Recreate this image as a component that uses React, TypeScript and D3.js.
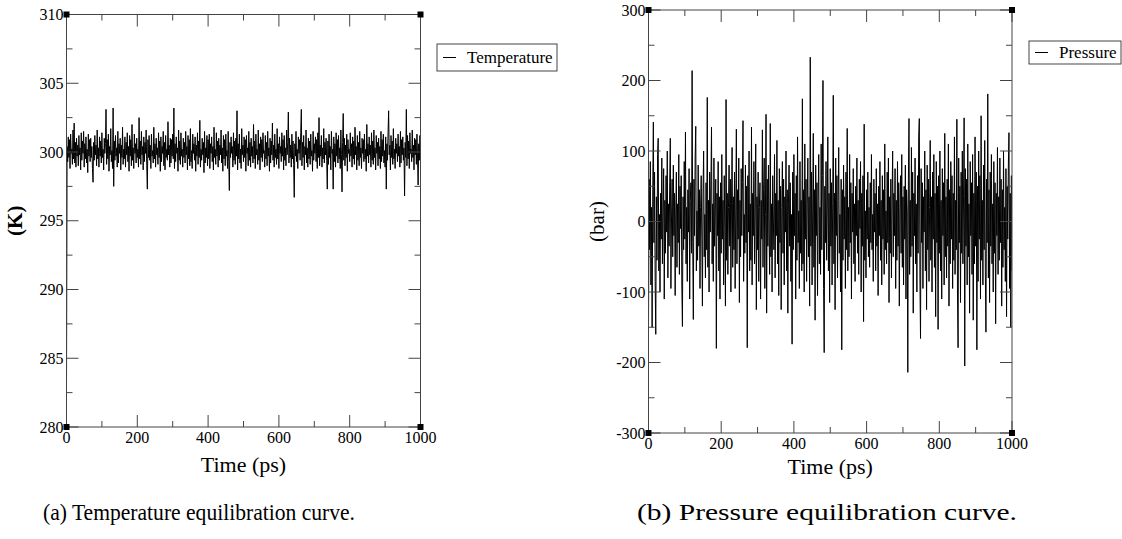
import React from "react";
import * as d3 from "d3";

// Temperature (K), sampled evenly over 0..1000 ps
const temperature: number[] = [
  283.0, 300.4, 299.3, 301.1, 299.6, 300.9, 298.8, 301.3, 299.9, 300.2, 299.1, 301.6, 299.5, 302.1, 299.2, 300.7, 298.9, 301.0, 299.7, 300.5,
  299.0, 301.2, 299.8, 300.3, 298.7, 301.4, 299.4, 300.8, 299.9, 301.5, 298.9, 300.6, 299.5, 301.1, 299.2, 300.2, 298.5, 301.3, 299.7, 300.9,
  299.3, 301.0, 299.6, 300.4, 298.8, 297.8, 300.7, 299.4, 301.2, 299.8, 300.5, 299.0, 301.6, 299.5, 300.3, 298.9, 301.1, 299.7, 300.8, 299.2,
  301.4, 299.6, 300.2, 298.7, 301.0, 299.9, 300.6, 303.1, 299.1, 300.9, 299.5, 301.3, 298.6, 300.4, 299.8, 301.7, 299.3, 300.1, 298.8, 303.2,
  297.5, 300.8, 299.4, 301.2, 299.7, 300.3, 298.9, 301.5, 299.2, 300.6, 299.9, 301.0, 298.7, 300.5, 299.6, 301.8, 299.1, 300.2, 299.5, 301.1,
  298.9, 300.7, 299.8, 301.4, 299.3, 300.4, 298.6, 301.2, 299.7, 300.9, 299.0, 302.0, 299.4, 300.3, 298.8, 301.3, 299.9, 300.6, 299.2, 301.0,
  299.6, 300.2, 298.9, 302.5, 299.5, 300.8, 299.1, 301.5, 299.8, 300.4, 298.7, 301.1, 299.3, 300.7, 299.9, 301.6, 299.0, 297.3, 300.9, 299.6,
  301.2, 299.4, 300.5, 298.8, 301.3, 299.7, 300.1, 299.2, 301.8, 299.5, 300.6, 298.9, 301.0, 299.8, 300.3, 299.1, 301.4, 299.6, 300.8, 298.6,
  301.1, 299.3, 300.4, 299.9, 301.5, 299.0, 300.7, 298.7, 301.2, 299.6, 300.2, 299.4, 302.2, 299.8, 300.5, 298.9, 301.0, 299.2, 300.9, 299.7,
  301.3, 299.5, 303.2, 298.8, 300.6, 299.3, 301.1, 299.9, 300.3, 298.6, 301.6, 299.4, 300.8, 299.1, 301.4, 299.7, 300.2, 298.9, 301.0, 299.6,
  300.7, 299.2, 301.5, 299.8, 300.4, 298.7, 301.2, 299.5, 300.9, 299.0, 301.7, 299.3, 300.1, 298.8, 301.3, 299.9, 300.6, 299.4, 301.1, 298.6,
  300.5, 299.7, 301.4, 299.1, 300.8, 299.6, 302.3, 298.9, 300.2, 299.4, 301.0, 299.8, 300.7, 298.5, 301.5, 299.2, 300.3, 299.6, 301.2, 299.0,
  300.9, 299.5, 301.3, 298.8, 300.6, 299.9, 301.1, 299.3, 300.4, 298.7, 301.8, 299.6, 300.2, 299.1, 301.4, 299.7, 300.8, 298.9, 301.0, 299.4,
  300.5, 299.8, 301.6, 299.2, 300.3, 298.6, 301.2, 299.5, 300.9, 299.0, 301.3, 299.7, 300.1, 298.8, 301.5, 299.3, 297.2, 300.7, 299.6, 301.1,
  299.9, 300.4, 298.9, 301.4, 299.4, 300.8, 299.1, 301.0, 299.7, 303.0, 298.7, 300.6, 299.5, 301.3, 299.2, 300.2, 298.8, 301.7, 299.8, 300.5,
  299.3, 301.1, 299.6, 300.9, 298.6, 301.2, 299.9, 300.3, 299.0, 301.5, 299.4, 300.7, 298.9, 301.0, 299.7, 300.4, 299.2, 302.0, 299.5, 300.8,
  298.8, 301.3, 299.8, 300.2, 299.1, 301.6, 299.4, 300.6, 298.7, 301.1, 299.6, 300.9, 299.3, 301.4, 299.9, 300.1, 298.9, 301.2, 299.5, 300.7,
  299.0, 301.5, 299.7, 300.3, 298.6, 301.0, 299.2, 300.8, 299.8, 302.1, 299.4, 300.5, 298.9, 301.3, 299.6, 300.2, 299.1, 301.7, 299.5, 300.6,
  298.8, 301.1, 299.9, 300.4, 299.3, 301.4, 299.7, 300.9, 298.7, 301.2, 299.4, 300.3, 299.0, 301.6, 299.8, 300.7, 302.9, 299.2, 301.0, 299.6,
  300.5, 298.9, 301.3, 299.5, 300.8, 299.1, 296.7, 300.6, 299.7, 301.5, 299.3, 300.2, 298.8, 301.1, 299.9, 300.9, 299.4, 301.4, 303.1, 299.0,
  300.7, 299.6, 301.2, 298.7, 300.4, 299.8, 301.6, 299.2, 300.3, 298.9, 301.0, 299.5, 300.8, 299.1, 301.3, 299.7, 300.1, 298.6, 301.5, 299.4,
  300.6, 299.9, 301.1, 299.3, 300.9, 298.8, 301.4, 299.6, 302.5, 299.0, 300.5, 299.7, 301.2, 298.9, 300.3, 299.5, 301.7, 299.2, 300.7, 299.8,
  301.0, 299.4, 297.3, 300.8, 299.1, 301.3, 299.6, 300.4, 298.7, 301.5, 299.9, 300.2, 297.3, 301.1, 299.3, 300.6, 298.9, 301.4, 299.7, 300.9,
  299.2, 301.2, 299.5, 300.3, 298.8, 301.6, 299.8, 297.1, 300.7, 302.8, 299.4, 301.0, 299.0, 300.5, 299.6, 301.3, 298.6, 300.9, 299.9, 300.2,
  299.3, 301.4, 299.7, 300.6, 298.9, 301.1, 299.5, 300.8, 299.1, 301.8, 299.8, 300.4, 298.7, 301.2, 299.4, 300.7, 299.0, 301.5, 299.6, 300.3,
  298.8, 301.0, 299.9, 300.9, 299.3, 301.3, 299.5, 300.2, 298.6, 302.0, 299.7, 300.6, 299.2, 301.1, 299.8, 300.5, 298.9, 301.4, 299.4, 300.8,
  299.1, 301.6, 299.6, 300.3, 298.7, 301.2, 299.9, 300.7, 299.0, 301.0, 299.5, 300.4, 298.8, 301.5, 299.3, 300.9, 299.7, 301.3, 299.2, 300.1,
  298.9, 301.1, 297.3, 300.6, 299.4, 301.4, 303.0, 299.8, 300.5, 298.7, 301.2, 299.6, 300.8, 299.1, 301.7, 299.5, 300.2, 298.8, 301.0, 299.9,
  300.6, 299.3, 301.3, 299.7, 300.4, 298.9, 301.5, 299.2, 300.9, 299.8, 301.1, 299.4, 300.3, 296.8, 300.7, 299.6, 303.1, 299.0, 301.2, 299.5,
  300.8, 298.8, 301.4, 299.9, 300.2, 299.3, 301.6, 299.6, 300.5, 298.7, 301.0, 299.8, 300.9, 299.1, 301.3, 299.5, 297.6, 300.6, 299.4, 301.2,
  299.7,
];

// Pressure (bar), sampled evenly over 0..1000 ps
const pressure: number[] = [
  -150, 60, -40, 85, -90, 20, -150, 45, 141, -30, 70, -85, -160, 35, -55, 95, 118, -70, 10, -100,
  40, -25, 90, -60, 15, 75, -110, 30, -45, 65, -15, 100, -80, 25, -35, 55, 118, -95, 5, 60,
  -50, 80, -20, 40, -105, 15, 70, -65, 25, -30, 95, -75, 50, -10, 65, -90, -149, 35, -40, 85,
  -25, 127, -60, 20, -85, 45, -15, 75, -110, 30, 55, -45, 214, -30, -139, 60, -20, 90, 135, -70,
  15, -55, 80, -35, 45, -95, 20, 65, -25, -120, 40, 100, -50, 10, -80, 55, -40, 176, -65, 30,
  -100, 70, -15, 50, 134, -60, 25, -85, 90, -35, 15, 60, -180, 40, -20, 85, -70, 35, -110, 55,
  -45, 95, -25, 30, -90, 65, -10, -120, 173, -55, 40, -75, 20, 80, -35, 60, -100, 25, 105, -65,
  35, -40, 70, -95, 15, 131, -60, 45, -25, 90, -115, 30, -50, 75, -20, 55, 143, -85, 10, -45,
  80, -30, 50, -179, 65, -15, 100, -70, 25, -55, 134, -90, 40, -20, 85, -60, 15, 110, -125, 35,
  -40, 70, -85, 20, 55, -110, 30, -25, 130, -65, 45, 90, -95, 10, 152, -130, 60, -35, 80, -15,
  -75, 139, -50, 25, -100, 65, 5, -40, 95, -80, 40, -20, 115, -60, 30, -105, 75, -30, 50, -125,
  20, 85, -45, 60, -90, 35, -15, 100, -70, 45, -130, 25, 80, -35, 55, -85, 10, -174, 70, -40,
  95, -20, 40, -110, 65, -55, 120, -30, 15, -95, 85, -45, 30, -70, 174, -60, 45, -100, 110, -25,
  60, -85, 25, 90, -50, 35, -120, 233, -35, 70, -90, 15, 125, -65, 45, -140, 80, -20, 55, -105,
  30, 95, -60, 20, -75, 110, -40, 65, 200, -95, -186, 50, -30, 85, -55, 15, 120, -70, 40, -115,
  75, -35, 55, -90, 25, 179, -60, 40, -125, 90, -20, 65, -80, 30, 105, -45, 10, -100, 60, -182,
  45, -55, 80, -25, 35, -95, 70, -40, 132, -70, 20, -50, 95, -30, 55, -110, 40, -15, 75, -60,
  25, -85, 50, -20, 90, -45, 30, -75, 60, -10, 85, -100, 40, -35, 65, -142, 138, -55, 15, -80,
  45, -25, 70, -50, 20, -65, 55, -30, 95, -40, 10, -85, 60, -15, 40, -70, 75, -35, 25, -105,
  50, -20, 85, -55, 30, -90, 65, -25, 45, -75, 110, -40, 15, -60, 70, -30, 90, -115, 35, -45,
  60, -80, 25, 100, -50, 40, -20, 75, -95, 30, -55, 85, -35, 55, -120, 20, 65, -45, 95, -65,
  35, -90, 50, -25, 80, -110, 45, 15, -214, 60, 146, -75, 30, -50, 105, -35, 70, -130, 40, -20,
  90, -60, 25, -100, 65, -45, 120, 146, -80, -166, 75, -30, 55, -95, 35, -15, 100, -70, 45, -125,
  80, -40, 60, -85, 20, 115, -55, 35, -100, 70, -25, 95, -65, 40, -135, 85, -30, 50, -153, 65,
  -45, 100, -70, 30, -110, 75, -20, 55, -90, 125, -50, 35, -80, 60, -35, 110, -120, 45, -60, 85,
  -25, 65, -95, 40, -55, 120, -75, 30, -40, 145, -100, -179, 90, -30, 50, -115, 70, -45, 100, -60,
  35, 147, -205, 75, -35, 60, -90, 110, -50, 25, -130, 85, -20, 55, -75, 95, -140, 40, -60, 120,
  -35, 70, -182, 50, -85, 100, -25, 65, -110, 150, -55, 30, -90, 80, -40, 115, -70, -157, 60, -30,
  181, -80, 45, -115, 70, -35, 95, -60, 25, -100, 85, -45, 55, -145, 40, -20, 105, -75, 35, -55,
  90, -30, 60, -120, 45, -65, 100, -40, 20, -85, 75, -135, 50, -25, 80, 126, -95, 40, -150, 65,
  -70,
];

const xTicksMajor = [0, 200, 400, 600, 800, 1000];
const xTicksMinor = [100, 300, 500, 700, 900];
const tempTicksMajor = [280, 285, 290, 295, 300, 305, 310];
const tempTicksMinor = [282.5, 287.5, 292.5, 297.5, 302.5, 307.5];
const presTicksMajor = [-300, -200, -100, 0, 100, 200, 300];
const presTicksMinor = [-250, -150, -50, 50, 150, 250];

const SERIF = "'Liberation Serif', 'Times New Roman', serif";

type PanelProps = {
  id: string;
  values: number[];
  x0: number; x1: number; yTop: number; yBot: number;
  yDomain: [number, number];
  yMajor: number[]; yMinor: number[];
  yLabel: string; yLabelX: number; yLabelBold: boolean;
  legendLabel: string; legendBox: [number, number, number, number];
  xLabelBaseline: number; xTitleBaseline: number;
  caption: string; captionX: number; captionW: number;
};

function Panel(p: PanelProps) {
  const x = d3.scaleLinear().domain([0, 1000]).range([p.x0, p.x1]);
  const y = d3.scaleLinear().domain(p.yDomain).range([p.yBot, p.yTop]);
  const n = p.values.length;
  const line = d3
    .line<number>()
    .x((_, i) => x((i * 1000) / (n - 1)))
    .y((v) => y(v));
  const major = 12;
  const minor = 6;
  const [lx, ly, lw, lh] = p.legendBox;
  const cx = (p.x0 + p.x1) / 2;
  const axisColor = "#444";
  return (
    <g>
      <defs>
        <clipPath id={"clip-" + p.id}>
          <rect x={p.x0} y={p.yTop} width={p.x1 - p.x0} height={p.yBot - p.yTop} />
        </clipPath>
      </defs>
      <path d={line(p.values) || ""} fill="none" stroke="#000" strokeWidth={1} clipPath={`url(#clip-${p.id})`} />
      <rect x={p.x0} y={p.yTop} width={p.x1 - p.x0} height={p.yBot - p.yTop} fill="none" stroke={axisColor} strokeWidth={1} />
      {xTicksMajor.map((t) => (
        <g key={"xM" + t}>
          <line x1={x(t)} x2={x(t)} y1={p.yBot} y2={p.yBot - major} stroke={axisColor} />
          <line x1={x(t)} x2={x(t)} y1={p.yTop} y2={p.yTop + major} stroke={axisColor} />
          <text x={x(t)} y={p.xLabelBaseline} textAnchor="middle" fontFamily={SERIF} fontSize={16}>{t}</text>
        </g>
      ))}
      {xTicksMinor.map((t) => (
        <g key={"xm" + t}>
          <line x1={x(t)} x2={x(t)} y1={p.yBot} y2={p.yBot - minor} stroke={axisColor} />
          <line x1={x(t)} x2={x(t)} y1={p.yTop} y2={p.yTop + minor} stroke={axisColor} />
        </g>
      ))}
      {p.yMajor.map((t) => (
        <g key={"yM" + t}>
          <line x1={p.x0} x2={p.x0 + major} y1={y(t)} y2={y(t)} stroke={axisColor} />
          <line x1={p.x1} x2={p.x1 - major} y1={y(t)} y2={y(t)} stroke={axisColor} />
          <text x={p.x0 - 3} y={y(t) + 5.5} textAnchor="end" fontFamily={SERIF} fontSize={16}>{t}</text>
        </g>
      ))}
      {p.yMinor.map((t) => (
        <g key={"ym" + t}>
          <line x1={p.x0} x2={p.x0 + minor} y1={y(t)} y2={y(t)} stroke={axisColor} />
          <line x1={p.x1} x2={p.x1 - minor} y1={y(t)} y2={y(t)} stroke={axisColor} />
        </g>
      ))}
      {[[p.x0, p.yTop], [p.x1, p.yTop], [p.x0, p.yBot], [p.x1, p.yBot]].map(([a, b], i) => (
        <rect key={"c" + i} x={a - 3} y={b - 3} width={6} height={6} fill="#000" />
      ))}
      <text x={cx} y={p.xTitleBaseline} textAnchor="middle" fontFamily={SERIF} fontSize={22}>Time (ps)</text>
      <text
        transform={`translate(${p.yLabelX},${(p.yTop + p.yBot) / 2}) rotate(-90)`}
        textAnchor="middle"
        fontFamily={SERIF}
        fontSize={21}
        fontWeight={p.yLabelBold ? "bold" : "normal"}
      >
        {p.yLabel}
      </text>
      <rect x={lx} y={ly} width={lw} height={lh} fill="#fff" stroke={axisColor} strokeWidth={1} />
      <line x1={lx + 6} x2={lx + 19} y1={ly + lh / 2} y2={ly + lh / 2} stroke="#000" />
      <text x={lx + 30} y={ly + lh / 2 + 5.5} fontFamily={SERIF} fontSize={17}>{p.legendLabel}</text>
      <text x={p.captionX} y={520} fontFamily={SERIF} fontSize={23} textLength={p.captionW} lengthAdjust="spacingAndGlyphs">{p.caption}</text>
    </g>
  );
}

export default function App() {
  return (
    <svg width={1122} height={539} style={{ position: "absolute", left: 0, top: 0, background: "#fff" }}>
      <rect x={0} y={0} width={1122} height={539} fill="#fff" />
      <Panel
        id="t"
        values={temperature}
        x0={66.5} x1={420.5} yTop={14.5} yBot={427}
        yDomain={[280, 310]}
        yMajor={tempTicksMajor} yMinor={tempTicksMinor}
        yLabel="(K)" yLabelX={22} yLabelBold={true}
        legendLabel="Temperature" legendBox={[437, 44, 120, 27]}
        xLabelBaseline={443} xTitleBaseline={472}
        caption="(a) Temperature equilibration curve." captionX={43} captionW={312}
      />
      <Panel
        id="p"
        values={pressure}
        x0={648.5} x1={1012} yTop={10} yBot={433}
        yDomain={[-300, 300]}
        yMajor={presTicksMajor} yMinor={presTicksMinor}
        yLabel="(bar)" yLabelX={604} yLabelBold={false}
        legendLabel="Pressure" legendBox={[1029, 41, 92, 23]}
        xLabelBaseline={449} xTitleBaseline={474}
        caption="(b) Pressure equilibration curve." captionX={637} captionW={380}
      />
    </svg>
  );
}
